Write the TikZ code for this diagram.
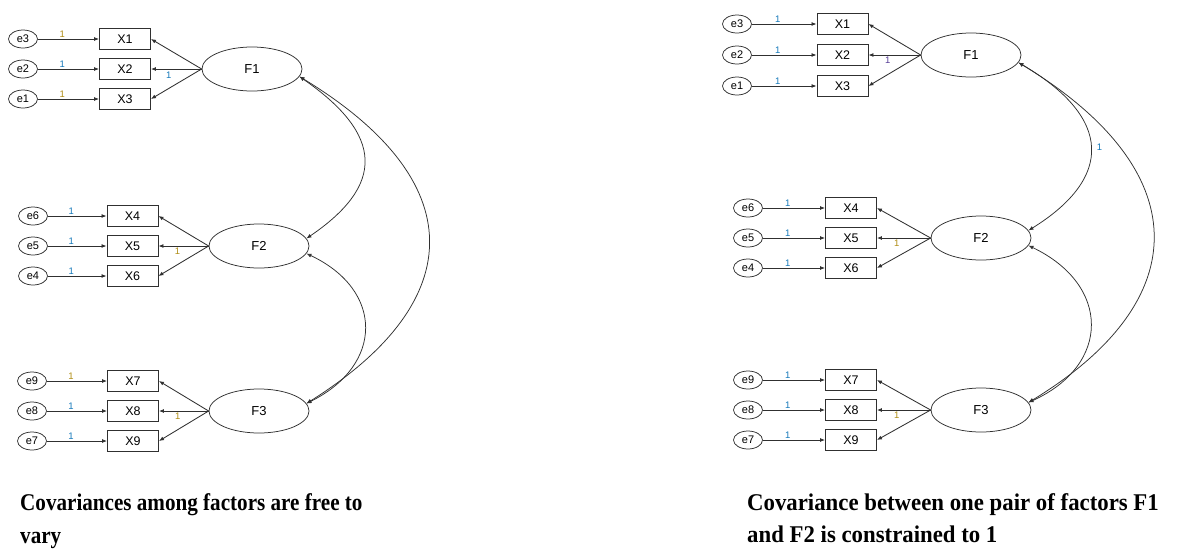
\documentclass[tikz,border=0pt]{standalone}
\usepackage{fontspec}
\setmainfont{Liberation Sans}
\newfontfamily\capfonta{Liberation Serif}[FakeStretch=0.88]
\newfontfamily\capfontb{Liberation Serif}[FakeStretch=0.95]
\usetikzlibrary{arrows.meta,shapes.geometric}
\definecolor{ink}{HTML}{303030}
\definecolor{onetl}{RGB}{20,120,185}
\definecolor{oneol}{RGB}{175,140,20}
\definecolor{onepu}{RGB}{85,60,150}
\begin{document}
\begin{tikzpicture}[x=1pt,y=-1pt,
  lat/.style={draw=ink, line width=0.75pt, ellipse, minimum width=100pt, minimum height=44pt, inner sep=0pt, font=\fontsize{13}{13}\selectfont},
  obs/.style={draw=ink, line width=0.9pt, rectangle, minimum width=51pt, minimum height=21pt, inner sep=0pt, font=\fontsize{12.5}{13}\selectfont},
  err/.style={draw=ink, line width=0.75pt, ellipse, minimum width=29pt, minimum height=18pt, inner sep=0pt, font=\fontsize{11}{11}\selectfont},
  reg/.style={draw=ink, line width=0.85pt, -{Latex[length=5pt,width=4pt]}},
  cov/.style={draw=ink, line width=0.75pt, {Latex[length=5pt,width=4pt]}-{Latex[length=5pt,width=4pt]}},
  one/.style={font=\fontsize{9.5}{9.5}\selectfont, inner sep=1pt},
  captext/.style={anchor=base west, inner sep=0pt}]
\useasboundingbox (0,0) rectangle (1202,552);

% ---------- left model: free covariances ----------
\node[lat] (aF1) at (252,69) {F1};
\node[lat] (aF2) at (259,246) {F2};
\node[lat] (aF3) at (259,411) {F3};

\foreach \i/\e/\y/\c in {1/3/39/oneol, 2/2/69/onetl, 3/1/99/oneol} {
  \node[obs] (aX\i) at (125,\y) {X\i};
  \node[err] (ae\e) at (23,\y) {e\e};
  \draw[reg] (ae\e) -- node[one, above, pos=0.4, text=\c] {1} (aX\i);
  \draw[reg] (aF1.west) -- (aX\i.east);
}
\path (aF1.west) -- node[one, pos=0.65, below=2pt, text=onetl] {1} (aX2.east);

\foreach \i/\e/\y/\c in {4/6/216/onetl, 5/5/246/onetl, 6/4/276/onetl} {
  \node[obs] (aX\i) at (132.5,\y) {X\i};
  \node[err] (ae\e) at (33,\y) {e\e};
  \draw[reg] (ae\e) -- node[one, above, pos=0.4, text=\c] {1} (aX\i);
  \draw[reg] (aF2.west) -- (aX\i.east);
}
\path (aF2.west) -- node[one, pos=0.62, below=1pt, text=oneol] {1} (aX5.east);

\foreach \i/\e/\y/\c in {7/9/381/oneol, 8/8/411/onetl, 9/7/441/onetl} {
  \node[obs] (aX\i) at (133,\y) {X\i};
  \node[err] (ae\e) at (32,\y) {e\e};
  \draw[reg] (ae\e) -- node[one, above, pos=0.4, text=\c] {1} (aX\i);
  \draw[reg] (aF3.west) -- (aX\i.east);
}
\path (aF3.west) -- node[one, pos=0.62, below=1pt, text=oneol] {1} (aX8.east);

\draw[cov] (aF1.-9) .. controls (384,135) and (385,185) .. (aF2.9);
\draw[cov] (aF2.-9) .. controls (384,290) and (384,365) .. (aF3.9);
\draw[cov] (aF1.-9) .. controls (470,180) and (471,300) .. (aF3.9);

\node[captext, font=\capfonta\bfseries\fontsize{24}{24}\selectfont] (acap1) at (20,510) {Covariances among factors are free to};
\node[captext, font=\capfonta\bfseries\fontsize{24}{24}\selectfont] (acap2) at (20,543) {vary};

% ---------- right model: F1--F2 covariance fixed ----------
\node[lat] (bF1) at (971,55) {F1};
\node[lat] (bF2) at (981,238) {F2};
\node[lat] (bF3) at (981,410) {F3};

\foreach \i/\e/\y in {1/3/24, 2/2/55, 3/1/86} {
  \node[obs] (bX\i) at (842.5,\y) {X\i};
  \node[err] (be\e) at (737,\y) {e\e};
  \draw[reg] (be\e) -- node[one, above, pos=0.4, text=onetl] {1} (bX\i);
  \draw[reg] (bF1.west) -- (bX\i.east);
}
\path (bF1.west) -- node[one, pos=0.63, below=1pt, text=onepu] {1} (bX2.east);

\foreach \i/\e/\y in {4/6/208, 5/5/238, 6/4/268} {
  \node[obs] (bX\i) at (851,\y) {X\i};
  \node[err] (be\e) at (748,\y) {e\e};
  \draw[reg] (be\e) -- node[one, above, pos=0.4, text=onetl] {1} (bX\i);
  \draw[reg] (bF2.west) -- (bX\i.east);
}
\path (bF2.west) -- node[one, pos=0.63, below=1pt, text=oneol] {1} (bX5.east);

\foreach \i/\e/\y in {7/9/380, 8/8/410, 9/7/440} {
  \node[obs] (bX\i) at (851,\y) {X\i};
  \node[err] (be\e) at (748,\y) {e\e};
  \draw[reg] (be\e) -- node[one, above, pos=0.4, text=onetl] {1} (bX\i);
  \draw[reg] (bF3.west) -- (bX\i.east);
}
\path (bF3.west) -- node[one, pos=0.63, below=1pt, text=oneol] {1} (bX8.east);

\draw[cov] (bF1.-9) .. controls (1113,118) and (1113,178) .. node[one, pos=0.5, right=5pt, text=onetl] {1} (bF2.9);
\draw[cov] (bF2.-9) .. controls (1111,285) and (1111,365) .. (bF3.9);
\draw[cov] (bF1.-9) .. controls (1196,170) and (1197,300) .. (bF3.9);

\node[captext, font=\capfontb\bfseries\fontsize{24}{24}\selectfont] (bcap1) at (747,510) {Covariance between one pair of factors F1};
\node[captext, font=\capfontb\bfseries\fontsize{24}{24}\selectfont] (bcap2) at (747,542) {and F2 is constrained to 1};
\end{tikzpicture}
\end{document}
